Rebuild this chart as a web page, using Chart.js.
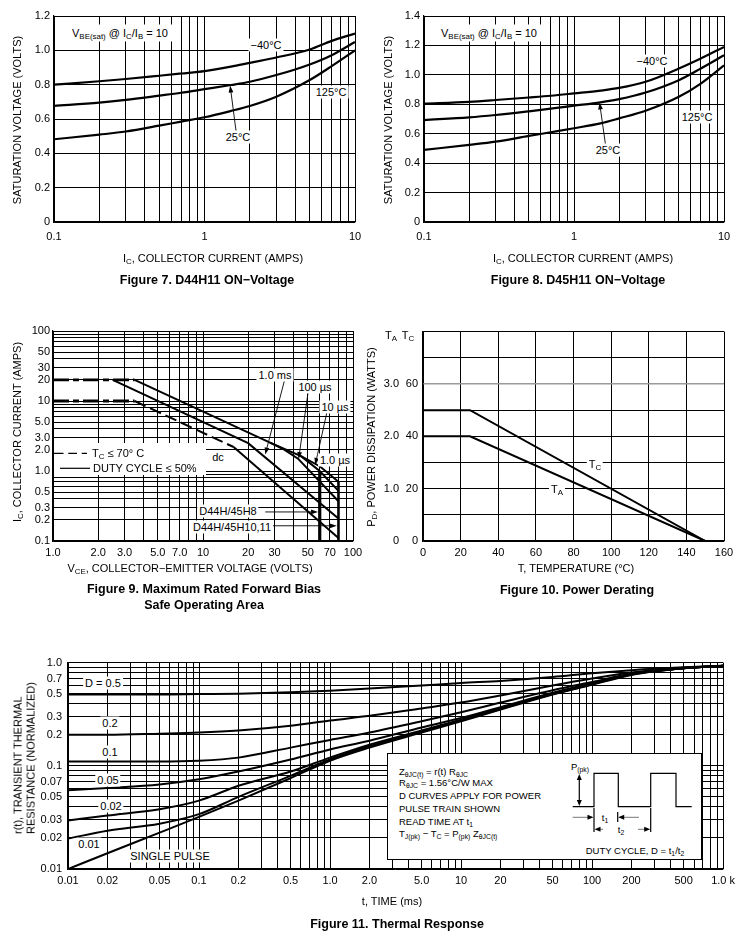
<!DOCTYPE html>
<html>
<head>
<meta charset="utf-8">
<title>D44H/D45H characteristic curves</title>
<script src="https://cdn.jsdelivr.net/npm/chart.js@4.4.1/dist/chart.umd.min.js"></script>
<style>
  html, body { margin: 0; padding: 0; background: #fff; }
  body { position: relative; width: 740px; height: 938px; overflow: hidden;
         font-family: "Liberation Sans", Arial, Helvetica, sans-serif; color: #000; }
  canvas { position: absolute; }
  .t { position: absolute; transform: translate(-50%, -50%); white-space: nowrap; font-size: 11px; line-height: 1; }
  .l { position: absolute; transform: translate(0, -50%); white-space: nowrap; font-size: 11px; line-height: 1; }
  .bg { background: #fff; padding: 1px 2px; }
  .rot { transform: translate(-50%, -50%) rotate(-90deg); }
  .cap { font-weight: bold; font-size: 12.5px; text-align: center; line-height: 16px; }
  .box { position: absolute; background: #fff; box-sizing: border-box; }
  .note { font-size: 9.5px; }
  sub { font-size: 0.72em; vertical-align: -0.3em; line-height: 0; }
</style>
</head>
<body>
<canvas id="fig7" width="370" height="250" style="left:0;top:0"></canvas>
<canvas id="fig8" width="370" height="250" style="left:370px;top:0"></canvas>
<canvas id="fig9" width="370" height="240" style="left:0;top:320px"></canvas>
<canvas id="fig10" width="370" height="240" style="left:370px;top:320px"></canvas>
<canvas id="fig11" width="740" height="240" style="left:0;top:650px"></canvas>

<!-- white boxes that sit over the grids -->
<div class="box" style="left:54px;top:443px;width:152px;height:32px"></div>
<div class="box" style="left:387px;top:753px;width:315px;height:107px;border:1px solid #000"></div>

<svg width="740" height="938" style="position:absolute;left:0;top:0;pointer-events:none">
  <g stroke="#000" fill="none" stroke-width="1.2">
    <path d="M54,453.3 H63.5 M68.3,453.3 H77 M81.7,453.3 H87" />
    <path d="M60,468.3 H90" />
    <path d="M572.7,806.7 H594 V773.3 H618.3 V806.7 H650.7 V773.3 H676 V806.7 H691.7" />
    <path d="M579.3,779 V801" />
    <path d="M594,808 V832 M617.7,812 V822 M650.7,808 V832" />
  </g>
  <g stroke="#777" stroke-width="1">
    <path d="M572.7,817.3 H588 M639,817.3 H624 M603,829.3 H600 M638,829.3 H645" />
  </g>
  <g fill="#000">
    <path d="M579.3,774 l-2.5,6 h5 z M579.3,806 l-2.5,-6 h5 z" />
    <path d="M593.5,817.3 l-6,-2.5 v5 z M618.2,817.3 l6,-2.5 v5 z" />
    <path d="M594.5,829.3 l6,-2.5 v5 z M650.2,829.3 l-6,-2.5 v5 z" />
  </g>
</svg>

<!-- Figure 7 texts -->
<div class="t bg" style="left:120px;top:33px;padding:3px 4px">V<sub>BE(sat)</sub> @ I<sub>C</sub>/I<sub>B</sub> = 10</div>
<div class="t bg" style="left:266px;top:45px">&minus;40&deg;C</div>
<div class="t bg" style="left:331px;top:92px">125&deg;C</div>
<div class="t bg" style="left:238px;top:137px">25&deg;C</div>
<div class="t rot" style="left:17px;top:120px">SATURATION VOLTAGE (VOLTS)</div>
<div class="t" style="left:213px;top:258px">I<sub>C</sub>, COLLECTOR CURRENT (AMPS)</div>
<div class="t cap" style="left:207px;top:280px">Figure 7. D44H11 ON&minus;Voltage</div>

<!-- Figure 8 texts -->
<div class="t bg" style="left:489px;top:33px;padding:3px 4px">V<sub>BE(sat)</sub> @ I<sub>C</sub>/I<sub>B</sub> = 10</div>
<div class="t bg" style="left:652px;top:61px">&minus;40&deg;C</div>
<div class="t bg" style="left:697px;top:117px">125&deg;C</div>
<div class="t bg" style="left:608px;top:150px">25&deg;C</div>
<div class="t rot" style="left:388px;top:120px">SATURATION VOLTAGE (VOLTS)</div>
<div class="t" style="left:583px;top:258px">I<sub>C</sub>, COLLECTOR CURRENT (AMPS)</div>
<div class="t cap" style="left:578px;top:280px">Figure 8. D45H11 ON&minus;Voltage</div>

<!-- Figure 9 texts -->
<div class="t bg" style="left:275px;top:375px">1.0 ms</div>
<div class="t bg" style="left:315px;top:387px">100 &micro;s</div>
<div class="t bg" style="left:335px;top:407px">10 &micro;s</div>
<div class="t bg" style="left:335px;top:460px">1.0 &micro;s</div>
<div class="t bg" style="left:218px;top:457px">dc</div>
<div class="t bg" style="left:228px;top:511px">D44H/45H8</div>
<div class="t bg" style="left:232px;top:527px">D44H/45H10,11</div>
<div class="l" style="left:92px;top:453px">T<sub>C</sub> &le; 70&deg; C</div>
<div class="l" style="left:93px;top:468px">DUTY CYCLE &le; 50%</div>
<div class="t rot" style="left:17px;top:432px">I<sub>C</sub>, COLLECTOR CURRENT (AMPS)</div>
<div class="t" style="left:190px;top:568px">V<sub>CE</sub>, COLLECTOR&minus;EMITTER VOLTAGE (VOLTS)</div>
<div class="t cap" style="left:204px;top:597px">Figure 9. Maximum Rated Forward Bias<br>Safe Operating Area</div>

<!-- Figure 10 texts -->
<div class="t" style="left:391px;top:335px">T<sub>A</sub></div>
<div class="t" style="left:408px;top:335px">T<sub>C</sub></div>
<div class="t bg" style="left:595px;top:464px">T<sub>C</sub></div>
<div class="t bg" style="left:557px;top:489px">T<sub>A</sub></div>
<div class="t" style="left:371px;top:437px;width:200px;height:12px;line-height:12px;text-align:center;transform:translate(-100px,-6px) rotate(-90deg)">P<sub>D</sub>, POWER DISSIPATION (WATTS)</div>
<div class="t" style="left:576px;top:568px">T, TEMPERATURE (&deg;C)</div>
<div class="t cap" style="left:577px;top:590px">Figure 10. Power Derating</div>

<!-- Figure 11 texts -->
<div class="t bg" style="left:103px;top:683px">D = 0.5</div>
<div class="t bg" style="left:110px;top:723px">0.2</div>
<div class="t bg" style="left:110px;top:752px">0.1</div>
<div class="t bg" style="left:108px;top:780px">0.05</div>
<div class="t bg" style="left:111px;top:806px">0.02</div>
<div class="t bg" style="left:89px;top:844px">0.01</div>
<div class="t bg" style="left:170px;top:856px">SINGLE PULSE</div>
<div class="l note" style="left:399px;top:772px">Z<sub>&theta;JC(t)</sub> = r(t) R<sub>&theta;JC</sub></div>
<div class="l note" style="left:399px;top:783px">R<sub>&theta;JC</sub> = 1.56&deg;C/W MAX</div>
<div class="l note" style="left:399px;top:796px">D CURVES APPLY FOR POWER</div>
<div class="l note" style="left:399px;top:809px">PULSE TRAIN SHOWN</div>
<div class="l note" style="left:399px;top:822px">READ TIME AT t<sub>1</sub></div>
<div class="l note" style="left:399px;top:834px">T<sub>J(pk)</sub> &minus; T<sub>C</sub> = P<sub>(pk)</sub> Z<sub>&theta;JC(t)</sub></div>
<div class="t note" style="left:635px;top:851px">DUTY CYCLE, D = t<sub>1</sub>/t<sub>2</sub></div>
<div class="t note" style="left:580px;top:767px">P<sub>(pk)</sub></div>
<div class="t note" style="left:605px;top:818px">t<sub>1</sub></div>
<div class="t note" style="left:621px;top:830px">t<sub>2</sub></div>
<div class="t" style="left:25px;top:758px;transform:translate(-50%,-50%) rotate(-90deg);text-align:left;line-height:13.4px">r(t), TRANSIENT THERMAL<br>RESISTANCE (NORMALIZED)</div>
<div class="t" style="left:392px;top:901px">t, TIME (ms)</div>
<div class="t cap" style="left:397px;top:924px">Figure 11. Thermal Response</div>

<script>
// ---- Figure 7: D44H11 ON-voltage ----
const fig7Current = [0.1, 0.2, 0.3, 0.5, 0.7, 1, 1.5, 2, 3, 5, 7, 10];
const fig7VbeM40 = [0.80, 0.82, 0.833, 0.852, 0.865, 0.879, 0.905, 0.927, 0.958, 1.005, 1.055, 1.098];
const fig7Vbe25 = [0.676, 0.695, 0.711, 0.736, 0.753, 0.774, 0.798, 0.817, 0.856, 0.918, 0.972, 1.049];
const fig7Vbe125 = [0.482, 0.509, 0.527, 0.561, 0.585, 0.61, 0.647, 0.676, 0.73, 0.827, 0.908, 1.0];

// ---- Figure 8: D45H11 ON-voltage ----
const fig8Current = [0.1, 0.2, 0.3, 0.5, 0.7, 1, 1.5, 2, 3, 5, 7, 10];
const fig8VbeM40 = [0.804, 0.817, 0.829, 0.846, 0.858, 0.874, 0.893, 0.911, 0.953, 1.043, 1.111, 1.19];
const fig8Vbe25 = [0.693, 0.711, 0.727, 0.752, 0.77, 0.79, 0.813, 0.835, 0.88, 0.964, 1.043, 1.133];
const fig8Vbe125 = [0.49, 0.524, 0.546, 0.585, 0.61, 0.637, 0.67, 0.704, 0.756, 0.851, 0.941, 1.065];

const onXTicks = [0.1, 1, 10];
const onXText = ['0.1', '1', '10'];

// ---- Figure 9: safe operating area (VCE volts, IC amps) ----
const soaDash20V = [1, 3.5];            const soaDash20I = [20, 20];
const soaDash10V = [1, 3.5];            const soaDash10I = [10, 10];
const soaDcDashV = [3.5, 16];           const soaDcDashI = [10, 2.2];
const soaDcV = [16, 80];                const soaDcI = [2.2, 0.11];
const soa1msV = [2.5, 20, 80];          const soa1msI = [20, 2.5, 0.21];
const soa100usV = [28, 35, 43, 80];     const soa100usI = [2.54, 2.0, 1.5, 0.37];
const soa10usV = [45, 60, 80];          const soa10usI = [1.63, 1.0, 0.52];
const soa1usV = [3.5, 28, 45, 60, 80];  const soa1usI = [20, 2.54, 1.63, 1.17, 0.70];
const soaLim60V = [60, 60];             const soaLim60I = [1.0, 0.1];
const soaLim80V = [80, 80];             const soaLim80I = [0.70, 0.1];

const soaXTicks = [1, 2, 3, 5, 7, 10, 20, 30, 50, 70, 100];
const soaXText = ['1.0', '2.0', '3.0', '5.0', '7.0', '10', '20', '30', '50', '70', '100'];
const soaYTicks = [0.1, 0.2, 0.3, 0.5, 1, 2, 3, 5, 10, 20, 30, 50, 100];
const soaYText = ['0.1', '0.2', '0.3', '0.5', '1.0', '2.0', '3.0', '5.0', '10', '20', '30', '50', '100'];

// ---- Figure 10: power derating ----
const deratTemp = [0, 25, 150];
const deratTc = [50, 50, 0];      // watts, case temperature scale
const deratTa = [2.0, 2.0, 0];    // watts, ambient temperature scale
const deratTcLabels = [0, 20, 40, 60];

// ---- Figure 11: thermal response ----
const thermTime = [0.01, 0.02, 0.05, 0.1, 0.2, 0.5, 1, 2, 5, 10, 20, 50, 100, 200, 500, 1000];
const thermD05 = [0.49, 0.49, 0.49, 0.495, 0.50, 0.515, 0.535, 0.56, 0.60, 0.635, 0.665, 0.725, 0.79, 0.845, 0.90, 0.93];
const thermD02 = [0.20, 0.20, 0.205, 0.21, 0.22, 0.245, 0.275, 0.305, 0.36, 0.41, 0.48, 0.60, 0.70, 0.80, 0.89, 0.93];
const thermD01 = [0.11, 0.11, 0.11, 0.112, 0.12, 0.15, 0.178, 0.21, 0.27, 0.33, 0.41, 0.54, 0.65, 0.78, 0.88, 0.93];
const thermD005 = [0.058, 0.061, 0.066, 0.074, 0.088, 0.115, 0.144, 0.175, 0.235, 0.29, 0.37, 0.51, 0.63, 0.77, 0.88, 0.93];
const thermD002 = [0.0295, 0.033, 0.038, 0.046, 0.064, 0.088, 0.12, 0.16, 0.22, 0.28, 0.36, 0.50, 0.62, 0.77, 0.88, 0.93];
const thermD001 = [0.0197, 0.0235, 0.0275, 0.034, 0.05, 0.08, 0.115, 0.155, 0.215, 0.275, 0.355, 0.495, 0.615, 0.765, 0.88, 0.93];
const thermSingle = [0.01, 0.0142, 0.0225, 0.032, 0.046, 0.076, 0.112, 0.15, 0.21, 0.27, 0.35, 0.49, 0.61, 0.76, 0.88, 0.93];

const thermXTicks = [0.01, 0.02, 0.05, 0.1, 0.2, 0.5, 1, 2, 5, 10, 20, 50, 100, 200, 500, 1000];
const thermXText = ['0.01', '0.02', '0.05', '0.1', '0.2', '0.5', '1.0', '2.0', '5.0', '10', '20', '50', '100', '200', '500', '1.0 k'];
const thermYTicks = [0.01, 0.02, 0.03, 0.05, 0.07, 0.1, 0.2, 0.3, 0.5, 0.7, 1];
const thermYText = ['0.01', '0.02', '0.03', '0.05', '0.07', '0.1', '0.2', '0.3', '0.5', '0.7', '1.0'];

Chart.defaults.font.family = '"Liberation Sans", Arial, Helvetica, sans-serif';
Chart.defaults.font.size = 11;
Chart.defaults.color = '#000';

const zip = (xs, ys) => xs.map((x, i) => ({ x: x, y: ys[i] }));

// every 1..9 x 10^n value between min and max, for the log grids
function decadeGrid(min, max) {
  const out = [];
  for (let e = Math.floor(Math.log10(min)); e <= Math.ceil(Math.log10(max)); e++) {
    for (let m = 1; m <= 9; m++) {
      const v = +(m * Math.pow(10, e)).toPrecision(4);
      if (v >= min * 0.999 && v <= max * 1.001) out.push(v);
    }
  }
  return out;
}

function tickText(vals, texts) {
  return v => {
    const i = vals.findIndex(a => Math.abs(a - v) <= Math.abs(a) * 1e-6);
    return i >= 0 ? texts[i] : '';
  };
}

function logAxis(min, max, vals, texts, pad, size, isX) {
  return {
    type: 'logarithmic', min: min, max: max,
    afterBuildTicks: s => { s.ticks = decadeGrid(min, max).map(v => ({ value: v })); },
    afterFit: s => { if (isX) s.height = size; else s.width = size; },
    ticks: { autoSkip: false, maxRotation: 0, minRotation: 0, padding: pad, callback: tickText(vals, texts) },
    grid: { color: '#000', lineWidth: 1, drawTicks: false },
    border: { color: '#000', width: 1.2 }
  };
}

function linAxis(min, max, step, fmt, pad, size, isX) {
  return {
    type: 'linear', min: min, max: max,
    afterFit: s => { if (isX) s.height = size; else s.width = size; },
    ticks: { stepSize: step, autoSkip: false, maxRotation: 0, padding: pad, callback: fmt },
    grid: { color: '#000', lineWidth: 1, drawTicks: false },
    border: { color: '#000', width: 1.2 }
  };
}

function curve(data, extra) {
  return Object.assign({
    data: data, borderColor: '#000', borderWidth: 2.2, fill: false,
    pointRadius: 0, cubicInterpolationMode: 'monotone'
  }, extra || {});
}

// label arrows, both ends given in data units
const arrowPlugin = {
  id: 'arrows',
  afterDatasetsDraw(chart, args, opts) {
    const ctx = chart.ctx;
    (opts.items || []).forEach(a => {
      const xs = chart.scales.x, ys = chart.scales.y;
      const x0 = xs.getPixelForValue(a.from[0]), y0 = ys.getPixelForValue(a.from[1]);
      const x1 = xs.getPixelForValue(a.to[0]), y1 = ys.getPixelForValue(a.to[1]);
      const ang = Math.atan2(y1 - y0, x1 - x0), len = 7, hw = 2.4;
      const c = Math.cos(ang), s = Math.sin(ang);
      ctx.save();
      ctx.strokeStyle = '#000'; ctx.fillStyle = '#000'; ctx.lineWidth = 0.9;
      ctx.beginPath(); ctx.moveTo(x0, y0); ctx.lineTo(x1 - c * len * 0.8, y1 - s * len * 0.8); ctx.stroke();
      ctx.beginPath(); ctx.moveTo(x1, y1);
      ctx.lineTo(x1 - len * c + hw * s, y1 - len * s - hw * c);
      ctx.lineTo(x1 - len * c - hw * s, y1 - len * s + hw * c);
      ctx.closePath(); ctx.fill();
      ctx.restore();
    });
  }
};

function makeChart(id, datasets, scales, padding, arrows) {
  return new Chart(document.getElementById(id), {
    type: 'line',
    data: { datasets: datasets },
    options: {
      responsive: false, animation: false,
      layout: { padding: padding },
      scales: scales,
      plugins: { legend: { display: false }, tooltip: { enabled: false }, arrows: { items: arrows || [] } }
    },
    plugins: [arrowPlugin]
  });
}

const oneDecimal = v => (v === 0 ? '0' : v.toFixed(1));

// Figure 7
makeChart('fig7', [
  curve(zip(fig7Current, fig7VbeM40)),
  curve(zip(fig7Current, fig7Vbe25)),
  curve(zip(fig7Current, fig7Vbe125))
], {
  x: logAxis(0.1, 10, onXTicks, onXText, 8, 28, true),
  y: linAxis(0, 1.2, 0.2, oneDecimal, 4, 54, false)
}, { top: 16, right: 15, left: 0, bottom: 0 },
[{ from: [1.62, 0.53], to: [1.48, 0.795] }]);

// Figure 8
makeChart('fig8', [
  curve(zip(fig8Current, fig8VbeM40)),
  curve(zip(fig8Current, fig8Vbe25)),
  curve(zip(fig8Current, fig8Vbe125))
], {
  x: logAxis(0.1, 10, onXTicks, onXText, 8, 28, true),
  y: linAxis(0, 1.4, 0.2, oneDecimal, 4, 54, false)
}, { top: 16, right: 16, left: 0, bottom: 0 },
[{ from: [1.62, 0.53], to: [1.48, 0.812] }]);

// Figure 9
const flatDash = { borderDash: [16, 4, 6, 4], borderWidth: 2.8, tension: 0, cubicInterpolationMode: 'default' };
const slopeDash = { borderDash: [12, 5], borderWidth: 2, tension: 0, cubicInterpolationMode: 'default' };
const straight = { tension: 0, cubicInterpolationMode: 'default', borderWidth: 2 };
makeChart('fig9', [
  curve(zip(soaDash20V, soaDash20I), flatDash),
  curve(zip(soaDash10V, soaDash10I), flatDash),
  curve(zip(soaDcDashV, soaDcDashI), slopeDash),
  curve(zip(soaDcV, soaDcI), straight),
  curve(zip(soa1msV, soa1msI), straight),
  curve(zip(soa100usV, soa100usI), straight),
  curve(zip(soa10usV, soa10usI), straight),
  curve(zip(soa1usV, soa1usI), straight),
  curve(zip(soaLim60V, soaLim60I), { tension: 0, borderWidth: 3.2, borderCapStyle: 'butt' }),
  curve(zip(soaLim80V, soaLim80I), { tension: 0, borderWidth: 2.6, borderCapStyle: 'butt' })
], {
  x: logAxis(1, 100, soaXTicks, soaXText, 5, 19, true),
  y: logAxis(0.1, 100, soaYTicks, soaYText, 3, 53, false)
}, { top: 11, right: 17, left: 0, bottom: 0 },
[
  { from: [35.4, 22], to: [26, 1.72] },
  { from: [50.6, 15], to: [43.4, 1.48] },
  { from: [67, 6.9], to: [56, 1.22] },
  { from: [26, 0.26], to: [58.5, 0.26] },
  { from: [29, 0.165], to: [78, 0.165] }
]);

// Figure 10
makeChart('fig10', [
  curve(zip(deratTemp, deratTc), { tension: 0, cubicInterpolationMode: 'default', borderWidth: 2 }),
  curve(zip(deratTemp, deratTa), { tension: 0, cubicInterpolationMode: 'default', borderWidth: 2, yAxisID: 'yTA' })
], {
  x: linAxis(0, 160, 20, v => String(v), 5, 19, true),
  y: Object.assign(linAxis(0, 80, 10, v => (deratTcLabels.includes(v) ? String(v) : ''), 5, 22, false), {
    weight: 0,
    grid: {
      drawTicks: false,
      color: c => (c.tick && c.tick.value === 60 ? '#9a9a9a' : '#000'),
      lineWidth: c => (c.tick && c.tick.value === 60 ? 1.6 : 1)
    }
  }),
  yTA: {
    type: 'linear', position: 'left', min: 0, max: 4, weight: 1,
    afterFit: s => { s.width = 31; },
    ticks: { stepSize: 1, padding: 2, callback: v => (v === 0 ? '0' : (v >= 4 ? '' : v.toFixed(1))) },
    grid: { display: false, drawTicks: false },
    border: { display: false }
  }
}, { top: 10, right: 16, left: 0, bottom: 0 });

// Figure 11
makeChart('fig11', [
  curve(zip(thermTime, thermD05), { borderWidth: 2 }),
  curve(zip(thermTime, thermD02), { borderWidth: 2 }),
  curve(zip(thermTime, thermD01), { borderWidth: 2 }),
  curve(zip(thermTime, thermD005), { borderWidth: 2 }),
  curve(zip(thermTime, thermD002), { borderWidth: 2 }),
  curve(zip(thermTime, thermD001), { borderWidth: 2 }),
  curve(zip(thermTime, thermSingle), { borderWidth: 2 })
], {
  x: logAxis(0.01, 1000, thermXTicks, thermXText, 5, 21, true),
  y: logAxis(0.01, 1, thermYTicks, thermYText, 6, 68, false)
}, { top: 9, right: 12, left: 0, bottom: 0 });
</script>
</body>
</html>
